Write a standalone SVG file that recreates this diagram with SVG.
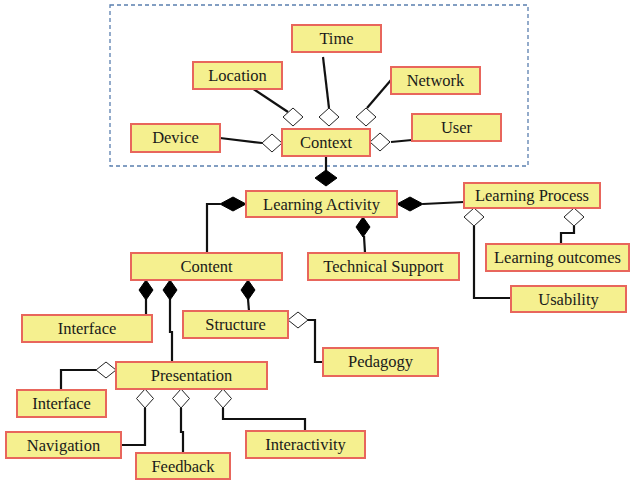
<svg xmlns="http://www.w3.org/2000/svg" width="630" height="482" viewBox="0 0 630 482">
<style>
.box{fill:#F5F08F;stroke:#E8665C;stroke-width:2}
.t{font-family:'Liberation Serif','DejaVu Serif','Times New Roman',serif;font-size:16.5px;fill:#1a1a1a;text-anchor:middle}
.ln{fill:none;stroke:#111;stroke-width:2.2}
.hd{fill:#fff;stroke:#222;stroke-width:1}
.bd{fill:#000;stroke:#000;stroke-width:1}
</style>
<rect width="630" height="482" fill="#fff"/>
<rect x="110" y="5" width="418" height="161" fill="none" stroke="#5A7FAF" stroke-width="1.3" stroke-dasharray="4 3"/>
<g id="connectors">
<polyline class="ln" points="252,88 288,112"/>
<polygon class="hd" points="293,108 303,117 293,126 283,117"/>
<polyline class="ln" points="323,57 329,108"/>
<polygon class="hd" points="329,108 339,117 329,126 319,117"/>
<polyline class="ln" points="391,80 367,108"/>
<polygon class="hd" points="366,108 376,117 366,126 356,117"/>
<polyline class="ln" points="220,138 262,143"/>
<polygon class="hd" points="262,143 272,134 282,143 272,152"/>
<polyline class="ln" points="391,142 412,140"/>
<polygon class="hd" points="370,142 380,133 390,142 380,151"/>
<polyline class="ln" points="326,156 326,171"/>
<polygon class="bd" points="326,170 337,178 326,186 315,178"/>
<polyline class="ln" points="220,204 207,204 207,253"/>
<polygon class="bd" points="220,204 233,197 246,204 233,211"/>
<polyline class="ln" points="423,204 464,202"/>
<polygon class="bd" points="397,204 410,197 423,204 410,211"/>
<polyline class="ln" points="364,236 365,253"/>
<polygon class="bd" points="363,217 370,227 363,237 356,227"/>
<polyline class="ln" points="474,226 474,298 511,298"/>
<polygon class="hd" points="474,208 484,217 474,226 464,217"/>
<polyline class="ln" points="574,226 574,233 561,233 561,244"/>
<polygon class="hd" points="574,208 584,217 574,226 564,217"/>
<polyline class="ln" points="146,299 146,315"/>
<polygon class="bd" points="146,280 153,290 146,300 139,290"/>
<polyline class="ln" points="170,299 170,332 172,332 172,362"/>
<polygon class="bd" points="170,280 177,290 170,300 163,290"/>
<polyline class="ln" points="248,299 249,311"/>
<polygon class="bd" points="248,280 255,290 248,300 241,290"/>
<polyline class="ln" points="307,320 315,320 315,362 323,362"/>
<polygon class="hd" points="288,320 298,312 308,320 298,328"/>
<polyline class="ln" points="96,370 61,370 61,390"/>
<polygon class="hd" points="96,370 106,362 116,370 106,378"/>
<polyline class="ln" points="145,408 145,445 121,445"/>
<polygon class="hd" points="145,389 153.5,398.5 145,408 136.5,398.5"/>
<polyline class="ln" points="181,408 181,432 183,432 183,453"/>
<polygon class="hd" points="181,389 189.5,398.5 181,408 172.5,398.5"/>
<polyline class="ln" points="223,408 223,419 305,419 305,431"/>
<polygon class="hd" points="223,389 231.5,398.5 223,408 214.5,398.5"/>
</g>
<g id="time"><rect class="box" x="292" y="25" width="89" height="27"/><text class="t" x="336.5" y="44">Time</text></g>
<g id="location"><rect class="box" x="193" y="62" width="89" height="27"/><text class="t" x="237.5" y="81">Location</text></g>
<g id="network"><rect class="box" x="391" y="67" width="89" height="27"/><text class="t" x="435.5" y="86">Network</text></g>
<g id="user"><rect class="box" x="412" y="114" width="89" height="27"/><text class="t" x="456.5" y="133">User</text></g>
<g id="device"><rect class="box" x="131" y="124" width="89" height="28"/><text class="t" x="175.5" y="143">Device</text></g>
<g id="context"><rect class="box" x="282" y="129" width="88" height="27"/><text class="t" x="326" y="148">Context</text></g>
<g id="learning-activity"><rect class="box" x="246" y="191" width="151" height="26"/><text class="t" x="321.5" y="210">Learning Activity</text></g>
<g id="learning-process"><rect class="box" x="464" y="183" width="136" height="25"/><text class="t" x="532" y="201">Learning Process</text></g>
<g id="learning-outcomes"><rect class="box" x="486" y="244" width="143" height="27"/><text class="t" x="557.5" y="263">Learning outcomes</text></g>
<g id="usability"><rect class="box" x="511" y="286" width="115" height="26"/><text class="t" x="568.5" y="305">Usability</text></g>
<g id="technical-support"><rect class="box" x="308" y="253" width="151" height="27"/><text class="t" x="383.5" y="272">Technical Support</text></g>
<g id="content"><rect class="box" x="131" y="253" width="151" height="27"/><text class="t" x="206.5" y="272">Content</text></g>
<g id="interface-1"><rect class="box" x="22" y="315" width="130" height="27"/><text class="t" x="87" y="334">Interface</text></g>
<g id="structure"><rect class="box" x="183" y="311" width="105" height="27"/><text class="t" x="235.5" y="330">Structure</text></g>
<g id="pedagogy"><rect class="box" x="323" y="348" width="115" height="28"/><text class="t" x="380.5" y="367">Pedagogy</text></g>
<g id="presentation"><rect class="box" x="116" y="362" width="151" height="27"/><text class="t" x="191.5" y="381">Presentation</text></g>
<g id="interface-2"><rect class="box" x="17" y="390" width="89" height="27"/><text class="t" x="61.5" y="409">Interface</text></g>
<g id="navigation"><rect class="box" x="6" y="432" width="115" height="26"/><text class="t" x="63.5" y="451">Navigation</text></g>
<g id="feedback"><rect class="box" x="136" y="453" width="94" height="26"/><text class="t" x="183" y="472">Feedback</text></g>
<g id="interactivity"><rect class="box" x="246" y="431" width="119" height="27"/><text class="t" x="305.5" y="450">Interactivity</text></g>
</svg>
